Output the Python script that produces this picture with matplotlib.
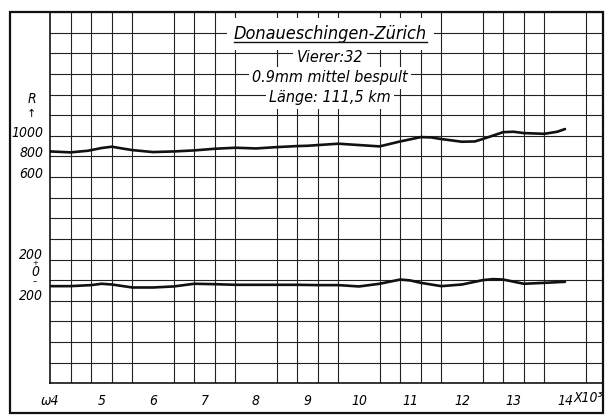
import matplotlib
matplotlib.use("Agg")
import matplotlib.pyplot as plt
import numpy as np
from matplotlib import font_manager
from matplotlib.font_manager import FontProperties
from matplotlib.patches import Rectangle
from matplotlib.lines import Line2D

# omega (x 10^3) and resistance R
omega_r = [4.0, 4.4, 4.74, 5.0, 5.2, 5.4, 5.6, 6.0, 6.4, 6.8, 7.2, 7.6, 8.0, 8.4, 8.8,
           9.0, 9.6, 10.0, 10.4, 10.8, 11.2, 11.4, 11.6, 12.0, 12.25, 12.4, 12.8, 13.0,
           13.2, 13.6, 13.85, 14.0]
R = [848, 839, 855, 881, 894, 877, 861, 842, 848, 858, 874, 884, 877, 890, 900,
     903, 923, 910, 897, 945, 987, 984, 968, 942, 945, 968, 1035, 1039,
     1026, 1019, 1039, 1065]

# omega (x 10^3) and reactance (lower curve, own zero line)
omega_x = [4.0, 4.4, 4.8, 5.0, 5.2, 5.6, 6.0, 6.4, 6.8, 7.2, 7.6, 8.0, 8.4, 8.8,
           9.2, 9.6, 10.0, 10.4, 10.8, 11.0, 11.2, 11.6, 12.0, 12.4, 12.6, 12.8,
           13.2, 13.6, 14.0]
X = [-58, -58, -48, -35, -42, -71, -71, -61, -35, -39, -45, -45, -45, -45,
     -48, -48, -61, -35, 6, -3, -26, -58, -42, 0, 10, 6,
     -35, -26, -16]

x_labels = ["ω4", "5", "6", "7", "8", "9", "10", "11", "12", "13", "14"]
r_labels = ["1000", "800", "600"]
title_lines = ["Vierer:32", "0.9mm mittel bespult", "Länge: 111,5 km"]

# look for a narrow italic face, like the stencil lettering
fonts = font_manager.fontManager.ttflist
narrow = [f for f in fonts if f.style in ("italic", "oblique")
          and ("Narrow" in f.fname or "Condensed" in f.fname)
          and "Bold" not in f.fname and f.weight in (400, "normal", "regular", "book")]
narrow.sort(key=lambda f: ("Liberation" not in f.fname, "DejaVu" not in f.fname))
fname = narrow[0].fname if narrow else None


def fp(size):
    if fname:
        return FontProperties(fname=fname, size=size)
    return FontProperties(family="DejaVu Sans", style="italic", size=size * 0.85)


W, H = 611, 416
fig = plt.figure(figsize=(W / 100, H / 100), dpi=100)
ax = fig.add_axes([50 / W, 1 - 383.3 / H, 553 / W, (383.3 - 12) / H])

ax.set_xlim(4, 4 + 553 / 51.5)
ax.set_ylim(-1400, 2200)
ax2 = ax.twinx()
ax2.set_ylim(-1000, 2600)

ax.set_xticks(np.arange(4, 14.8, 0.4), minor=True)
ax.set_yticks(np.arange(-1400, 2201, 200), minor=True)
ax.set_xticks(range(4, 15))
ax.set_xticklabels(x_labels)
for lab in ax.get_xticklabels():
    lab.set_fontproperties(fp(10))
ax.set_yticks([])
ax2.set_yticks([])
ax.tick_params(which="both", length=0, pad=8)
ax.grid(which="minor", color="#222222", lw=0.8)
ax.set_axisbelow(True)
for s in ["top", "right"]:
    ax.spines[s].set_visible(False)
    ax2.spines[s].set_visible(False)
ax2.spines["left"].set_visible(False)
ax2.spines["bottom"].set_visible(False)
ax.spines["left"].set_linewidth(1.1)
ax.spines["bottom"].set_linewidth(1.1)

ax.plot(omega_r, R, color="#111111", lw=1.9, solid_capstyle="round")
ax2.plot(omega_x, X, color="#111111", lw=1.9, solid_capstyle="round")

ax.text(14.17, -0.022, "X10³", transform=ax.get_xaxis_transform(), va="top",
        fontproperties=fp(10))

# left scale labels
yt = ax.get_yaxis_transform()
for lab, v in zip(r_labels, [1000, 800, 600]):
    ax.text(-0.012, v + 30, lab, transform=yt, ha="right", va="center", fontproperties=fp(10))
ax.text(-0.033, 1360, "R", transform=yt, ha="center", va="center", fontproperties=fp(10))
ax.text(-0.033, 1215, "↑", transform=yt, ha="center", va="center", fontsize=8)

yt2 = ax2.get_yaxis_transform()
ax2.text(-0.012, 240, "200", transform=yt2, ha="right", va="center", fontproperties=fp(10))
ax2.text(-0.027, 168, "+", transform=yt2, ha="center", va="center", fontsize=5)
ax2.text(-0.027, 80, "0", transform=yt2, ha="center", va="center", fontproperties=fp(10))
ax2.text(-0.027, -12, "–", transform=yt2, ha="center", va="center", fontsize=6)
ax2.text(-0.012, -155, "200", transform=yt2, ha="right", va="center", fontproperties=fp(10))

# title block
box = dict(facecolor="white", edgecolor="none", pad=2.5)
t = ax.text(9.44, 1985, "Donaueschingen-Zürich", ha="center", va="center",
            fontproperties=fp(13), bbox=dict(facecolor="white", edgecolor="none", pad=5))
for txt, y in zip(title_lines, [1756, 1562, 1368]):
    ax.text(9.44, y, txt, ha="center", va="center", fontproperties=fp(11.5), bbox=box)

fig.canvas.draw()
bb = t.get_window_extent()
fig.add_artist(Line2D([bb.x0, bb.x1], [bb.y0 + 1, bb.y0 + 1], transform=None,
                      color="#111111", lw=1.0))

fig.add_artist(Rectangle((10 / W, 1 - 413 / H), 593 / W, 401 / H, fill=False,
                         lw=1.6, edgecolor="#111111", transform=fig.transFigure))

fig.savefig("out.png", dpi=100)
